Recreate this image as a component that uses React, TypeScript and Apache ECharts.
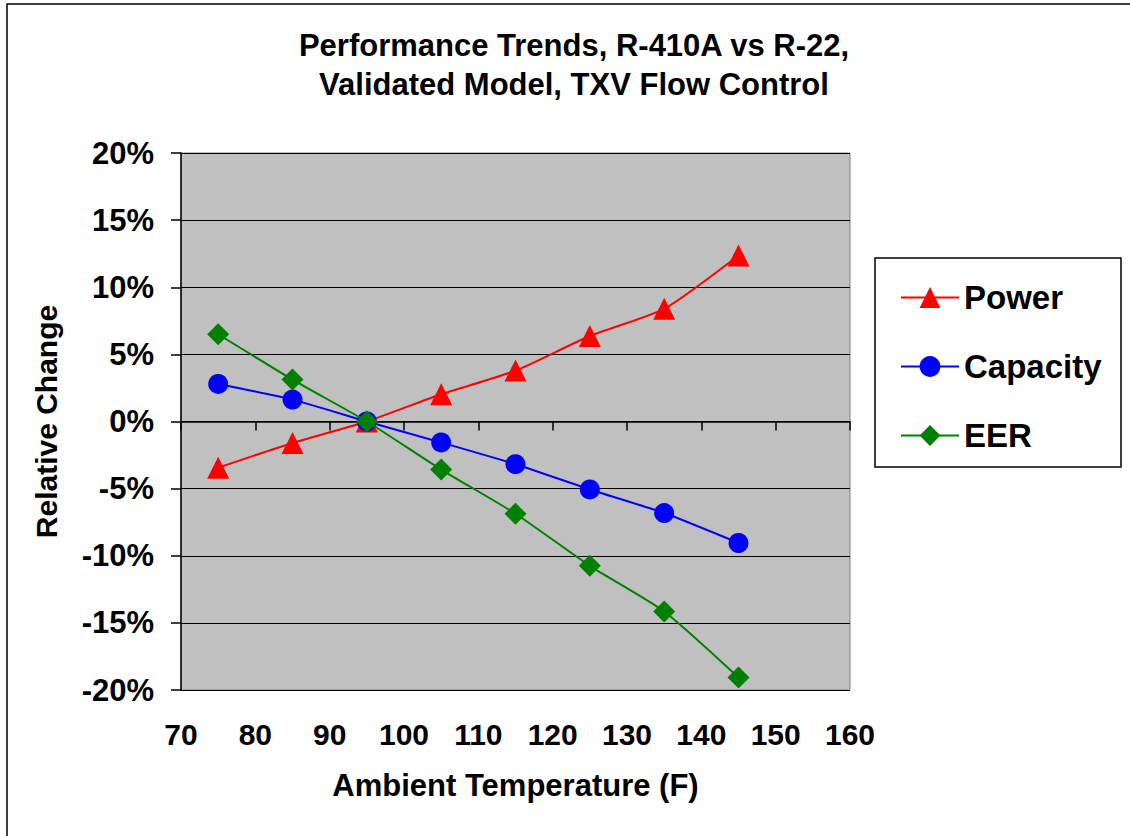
import React, { useEffect, useRef } from "react";
import * as echarts from "echarts";

const temps = [75, 85, 95, 105, 115, 125, 135, 145];
const power = [-3.44, -1.6, 0, 2.03, 3.79, 6.37, 8.39, 12.37];
const capacity = [2.8, 1.63, 0, -1.56, -3.18, -5.06, -6.82, -9.05];
const eer = [6.5, 3.12, 0, -3.58, -6.87, -10.75, -14.15, -19.07];
const seriesNames = ["Power", "Capacity", "EER"];
const titleText = "Performance Trends, R-410A vs R-22,\nValidated Model, TXV Flow Control";

const FONT = "Liberation Sans, Arial, sans-serif";

export default function App() {
  const ref = useRef<HTMLDivElement>(null);
  useEffect(() => {
    if (!ref.current) return;
    const chart = echarts.init(ref.current, null, { renderer: "svg" });
    const pair = (arr: number[]) => temps.map((t, i) => [t, arr[i]]);
    chart.setOption({
      animation: false,
      backgroundColor: "#ffffff",
      textStyle: { fontFamily: FONT },
      title: {
        text: titleText,
        left: 569,
        textAlign: "center",
        top: 21,
        textStyle: { fontFamily: FONT, fontWeight: "bold", fontSize: 31, lineHeight: 39, color: "#000" },
      },
      graphic: [
        {
          type: "rect",
          shape: { x: 7, y: 4, width: 1200, height: 900 },
          style: { fill: "none", stroke: "#000", lineWidth: 1.5 },
          silent: true,
          z: -10,
        },
        {
          type: "rect",
          shape: { x: 875, y: 258, width: 246, height: 209 },
          style: { fill: "#fff", stroke: "#000", lineWidth: 1.5 },
          silent: true,
          z: -5,
        },
      ],
      legend: {
        orient: "vertical",
        left: 895,
        top: 276,
        itemWidth: 58,
        itemHeight: 26,
        itemGap: 36,
        data: seriesNames,
        textStyle: { fontFamily: FONT, fontWeight: "bold", fontSize: 33, color: "#000" },
      },
      grid: {
        left: 181,
        top: 153,
        right: 280,
        bottom: 146,
        show: true,
        backgroundColor: "#C0C0C0",
        borderColor: "#808080",
        borderWidth: 1,
      },
      xAxis: {
        type: "value",
        min: 70,
        max: 160,
        interval: 10,
        name: "Ambient Temperature (F)",
        nameLocation: "middle",
        nameGap: 80,
        nameTextStyle: { fontFamily: FONT, fontWeight: "bold", fontSize: 31, color: "#000" },
        axisLine: { show: true, lineStyle: { color: "#000", width: 1.5 } },
        axisTick: { show: true, length: 9, lineStyle: { color: "#000", width: 1.5 } },
        axisLabel: { margin: 29, fontFamily: FONT, fontWeight: "bold", fontSize: 30, color: "#000" },
        splitLine: { show: false },
      },
      yAxis: {
        type: "value",
        min: -20,
        max: 20,
        interval: 5,
        name: "Relative Change",
        nameLocation: "middle",
        nameGap: 120,
        nameRotate: 90,
        nameTextStyle: { fontFamily: FONT, fontWeight: "bold", fontSize: 30, color: "#000" },
        axisLine: { show: true, onZero: false, lineStyle: { color: "#000", width: 1.5 } },
        axisTick: { show: true, length: 10, lineStyle: { color: "#000", width: 1.5 } },
        axisLabel: { margin: 27, formatter: "{value}%", fontFamily: FONT, fontWeight: "bold", fontSize: 31, color: "#000" },
        splitLine: { show: true, lineStyle: { color: "#000", width: 1.2 } },
      },
      series: [
        {
          name: "Power",
          type: "line",
          data: pair(power),
          symbol: "triangle",
          symbolSize: 22,
          smooth: 0.2,
          lineStyle: { color: "#FF0000", width: 2 },
          itemStyle: { color: "#FF0000" },
          z: 3,
        },
        {
          name: "Capacity",
          type: "line",
          data: pair(capacity),
          symbol: "circle",
          symbolSize: 20,
          smooth: 0.2,
          lineStyle: { color: "#0000FF", width: 2 },
          itemStyle: { color: "#0000FF" },
          z: 4,
        },
        {
          name: "EER",
          type: "line",
          data: pair(eer),
          symbol: "diamond",
          symbolSize: 22,
          smooth: 0.2,
          lineStyle: { color: "#008000", width: 2 },
          itemStyle: { color: "#008000" },
          z: 5,
        },
      ],
    });
    return () => chart.dispose();
  }, []);
  return (
    <div
      ref={ref}
      style={{ position: "fixed", left: 0, top: 0, width: 1130, height: 836 }}
    />
  );
}
